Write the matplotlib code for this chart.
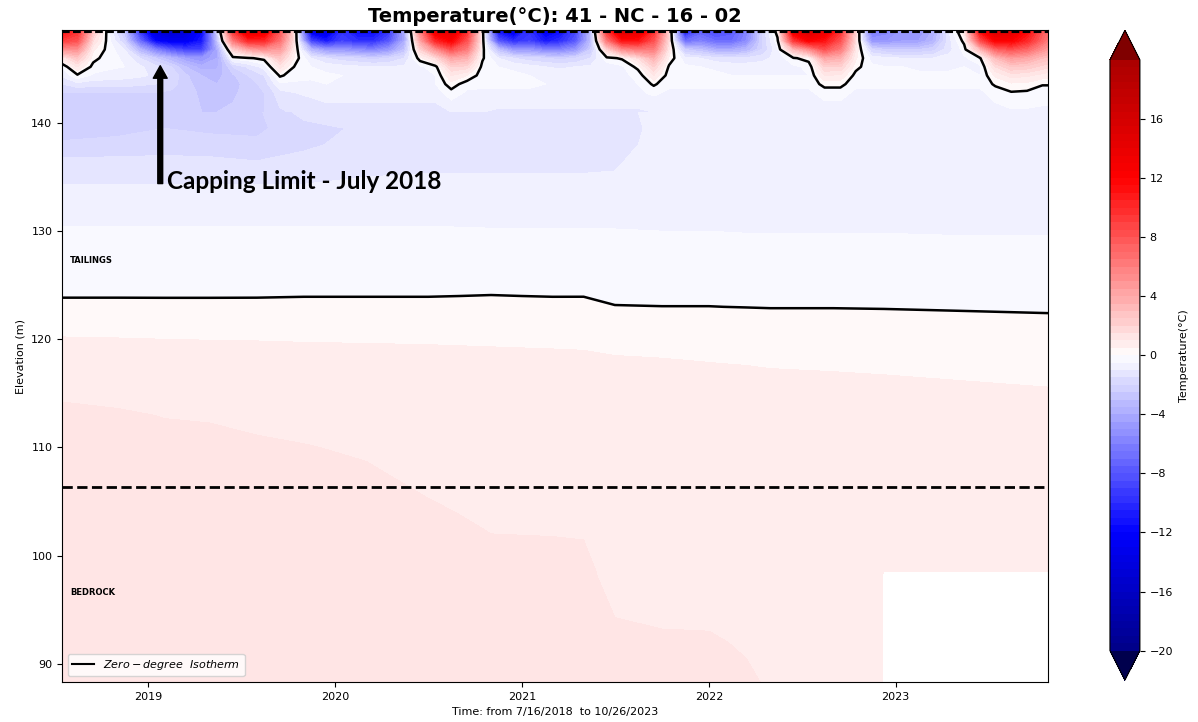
import numpy as np
import pandas as pd
import matplotlib
matplotlib.use("Agg")
import matplotlib.pyplot as plt
import matplotlib.dates as mdates
from matplotlib.lines import Line2D

# ---------------- near-surface thermistors (monthly profiles) ----------------
# each profile: temperatures at the elevations in surf_elev (top -> 141 m)
surf_elev = [148.7, 147.6, 146.8, 146.0, 145.2, 144.4, 143.6, 142.8, 141.0]

surf_2018 = [
    [12, 9, 5, 1.0, -0.5, -0.9, -1.5, -2.0, -2.3],
    [10, 8, 5, 2.5, 1.0, -0.1, -1.2, -2.0, -2.3],
    [3, 1.5, 0.6, 0.2, -0.2, -0.6, -1.3, -2.0, -2.3],
    [-0.5, -0.3, -0.2, -0.3, -0.4, -0.7, -1.3, -2.0, -2.3],
    [-3, -2, -1, -0.6, -0.5, -0.8, -1.3, -2.0, -2.3],
    [-10, -7, -3.5, -1.5, -0.9, -0.9, -1.4, -2.0, -2.3],
]
surf_2019 = [
    [-15, -12, -6, -2.5, -1.3, -1.1, -1.5, -2.0, -2.3],
    [-16, -13, -8, -3.5, -2.0, -1.6, -1.8, -2.1, -2.3],
    [-15, -13, -9, -4.5, -3.0, -2.4, -2.3, -2.3, -2.4],
    [-12, -11, -9, -5.0, -3.8, -3.0, -2.8, -2.6, -2.5],
    [-2, -3, -4, -4.0, -3.6, -3.2, -3.0, -2.8, -2.5],
    [10, 6, 2, -0.3, -2.0, -2.6, -2.7, -2.6, -2.4],
    [15, 10, 4, -0.1, -1.4, -2.0, -2.3, -2.3, -2.2],
    [14, 10, 5, 0.2, -0.8, -1.5, -1.8, -2.0, -2.0],
    [8, 6.5, 4.5, 2.5, 1.2, 0.1, -0.6, -1.2, -1.6],
    [1.0, 0.8, 0.6, 0.3, -0.1, -0.3, -0.6, -1.0, -1.4],
    [-14, -9, -3.5, -1.0, -0.5, -0.4, -0.6, -0.9, -1.3],
    [-15, -11, -5, -1.5, -0.7, -0.4, -0.5, -0.8, -1.2],
]
surf_2020 = [
    [-10, -9, -5, -1.8, -0.8, -0.5, -0.5, -0.8, -1.2],
    [-12, -10, -5.5, -2.0, -0.9, -0.5, -0.5, -0.8, -1.2],
    [-12, -10, -6, -2.2, -1.0, -0.6, -0.5, -0.8, -1.2],
    [-10, -8, -5, -2.0, -1.0, -0.6, -0.5, -0.8, -1.2],
    [-4, -4, -3, -1.5, -0.9, -0.6, -0.5, -0.8, -1.2],
    [6, 4, 2, 0.3, -0.6, -0.6, -0.5, -0.8, -1.2],
    [14, 10, 5, 1.5, -0.2, -0.5, -0.5, -0.8, -1.2],
    [15, 12, 8, 4, 2, 1, 0.3, -0.2, -1.0],
    [10, 8, 6, 3.5, 1.8, 0.5, -0.3, -0.6, -1.0],
    [0.5, 0.5, 0.3, 0.1, -0.2, -0.3, -0.4, -0.6, -1.0],
    [-12, -8, -3, -1.0, -0.5, -0.4, -0.4, -0.6, -1.1],
    [-14, -10, -5, -1.5, -0.6, -0.4, -0.4, -0.6, -1.1],
]
surf_2021 = [
    [-10, -9, -5, -1.8, -0.8, -0.5, -0.4, -0.6, -1.1],
    [-13, -11, -6, -2.0, -1.0, -0.6, -0.5, -0.6, -1.1],
    [-12, -10, -6, -2.2, -1.1, -0.7, -0.5, -0.6, -1.1],
    [-9, -8, -5, -2.0, -1.0, -0.7, -0.5, -0.6, -1.1],
    [-3, -3, -2.5, -1.5, -0.9, -0.7, -0.5, -0.6, -1.1],
    [10, 6, 2, -0.2, -0.8, -0.7, -0.5, -0.6, -1.1],
    [16, 11, 5, 0.1, -0.6, -0.6, -0.5, -0.6, -1.1],
    [15, 11, 6, 1.5, 0.2, -0.4, -0.5, -0.6, -1.1],
    [10, 8, 6, 3.5, 2, 1, 0.1, -0.4, -1.0],
    [2, 1.5, 1, 0.4, -0.1, -0.3, -0.4, -0.6, -0.9],
    [-12, -7, -2.5, -0.8, -0.4, -0.4, -0.4, -0.6, -0.9],
    [-8, -6, -3, -1.0, -0.5, -0.4, -0.4, -0.6, -0.9],
]
surf_2022 = [
    [-9, -7, -4, -1.3, -0.6, -0.4, -0.4, -0.6, -0.9],
    [-8, -7, -4, -1.4, -0.7, -0.5, -0.4, -0.6, -0.9],
    [-6, -5.5, -3.5, -1.4, -0.7, -0.5, -0.4, -0.6, -0.9],
    [-2, -2, -2, -1.2, -0.7, -0.5, -0.4, -0.6, -0.9],
    [0.5, -0.2, -0.6, -0.8, -0.6, -0.5, -0.4, -0.6, -0.9],
    [14, 9, 3, -0.1, -0.6, -0.5, -0.4, -0.6, -0.9],
    [16, 12, 5, 0.3, -0.4, -0.5, -0.4, -0.6, -0.9],
    [14, 11, 8, 4, 2, 1, 0.2, -0.3, -0.8],
    [10, 8, 6, 3.5, 2, 0.9, 0.2, -0.3, -0.8],
    [2, 1.5, 1, 0.6, 0.2, -0.2, -0.4, -0.6, -0.8],
    [-7, -5, -2, -0.7, -0.4, -0.4, -0.4, -0.6, -0.8],
    [-6, -5, -2.5, -0.9, -0.5, -0.4, -0.4, -0.6, -0.8],
]
surf_2023 = [
    [-5, -4.5, -2.5, -1.0, -0.5, -0.4, -0.4, -0.6, -0.8],
    [-5, -4.5, -2.5, -1.0, -0.6, -0.4, -0.4, -0.6, -0.8],
    [-4, -3.5, -2.2, -1.0, -0.6, -0.4, -0.4, -0.6, -0.8],
    [-1, -1.2, -1.2, -0.8, -0.6, -0.4, -0.4, -0.6, -0.8],
    [1, 0.2, -0.3, -0.6, -0.5, -0.4, -0.4, -0.6, -0.8],
    [12, 8, 3, -0.1, -0.6, -0.5, -0.4, -0.6, -0.8],
    [16, 12, 7, 3, 1.5, 0.6, 0.1, -0.3, -0.7],
    [15, 12, 8, 4.5, 2.5, 1.2, 0.4, -0.05, -0.6],
    [12, 10, 7, 4, 2.3, 1.1, 0.35, -0.1, -0.6],
    [8, 7, 5, 3, 1.8, 0.8, 0.05, -0.3, -0.6],
    [7, 6, 4.5, 2.8, 1.6, 0.7, 0.05, -0.3, -0.6],
]
surf_times = (["2018-07-16"]
              + [str(d.date()) for d in pd.date_range("2018-08-01", "2023-10-01", freq="MS") + pd.Timedelta(days=14)]
              + ["2023-10-26"])

# ---------------- deep thermistors (tailings + bedrock) ----------------
deep_times = ["2018-07-16", "2018-11-01", "2019-02-01", "2019-05-01", "2019-08-01",
              "2019-11-01", "2020-03-01", "2020-07-01", "2020-11-01", "2021-03-01",
              "2021-05-01", "2021-07-01", "2021-10-01", "2022-01-01", "2022-03-15",
              "2022-05-01", "2022-09-01", "2022-12-07", "2022-12-08", "2023-05-01",
              "2023-10-26"]
nan = np.nan
d141 = [-2.3, -2.3, -2.3, -2.5, -2.1, -1.3, -1.2, -1.2, -1.05, -1.1, -1.1, -1.1, -0.9, -0.9, -0.9, -0.9, -0.8, -0.8, -0.8, -0.8, -0.6]
d139_5 = [-2.3, -2.2, -2.0, -2.1, -2.1, -1.7, -1.4, -1.3, -1.25, -1.2, -1.2, -1.15, -0.9, -0.85, -0.85, -0.85, -0.8, -0.8, -0.8, -0.8, -0.75]
d138 = [-1.9, -1.8, -1.7, -1.8, -1.9, -1.6, -1.3, -1.25, -1.2, -1.2, -1.2, -1.15, -0.85, -0.8, -0.8, -0.8, -0.8, -0.8, -0.8, -0.75, -0.75]
d136_5 = [-1.4, -1.4, -1.4, -1.4, -1.5, -1.35, -1.15, -1.1, -1.1, -1.1, -1.1, -1.05, -0.8, -0.75, -0.75, -0.75, -0.75, -0.75, -0.75, -0.7, -0.7]
d135 = [-1.1, -1.1, -1.1, -1.1, -1.1, -1.1, -1.0, -0.97, -0.97, -0.97, -0.97, -0.97, -0.75, -0.72, -0.72, -0.72, -0.72, -0.72, -0.72, -0.7, -0.7]
d133 = [-0.8, -0.8, -0.8, -0.8, -0.8, -0.8, -0.75, -0.75, -0.75, -0.75, -0.75, -0.75, -0.7, -0.7, -0.7, -0.68, -0.68, -0.68, -0.68, -0.66, -0.65]
d131 = [-0.53, -0.53, -0.53, -0.53, -0.53, -0.53, -0.53, -0.53, -0.54, -0.54, -0.54, -0.54, -0.55, -0.55, -0.56, -0.56, -0.56, -0.56, -0.56, -0.57, -0.57]
d129 = [-0.42, -0.42, -0.42, -0.42, -0.42, -0.42, -0.42, -0.42, -0.43, -0.43, -0.43, -0.44, -0.45, -0.45, -0.46, -0.46, -0.46, -0.46, -0.46, -0.47, -0.47]
d127 = [-0.3, -0.3, -0.3, -0.3, -0.3, -0.29, -0.29, -0.29, -0.28, -0.29, -0.28, -0.32, -0.33, -0.33, -0.34, -0.35, -0.35, -0.36, -0.36, -0.37, -0.38]
d125 = [-0.12, -0.12, -0.13, -0.13, -0.12, -0.11, -0.11, -0.11, -0.1, -0.11, -0.1, -0.15, -0.16, -0.16, -0.17, -0.18, -0.18, -0.19, -0.19, -0.21, -0.22]
d124 = [-0.02, -0.02, -0.02, -0.02, -0.02, -0.01, -0.01, -0.01, 0.01, -0.01, -0.01, -0.07, -0.08, -0.08, -0.09, -0.1, -0.1, -0.1, -0.1, -0.12, -0.14]
d123 = [0.11, 0.11, 0.1, 0.1, 0.11, 0.13, 0.13, 0.13, 0.14, 0.13, 0.14, 0.014, 0.005, 0.005, -0.008, -0.016, -0.016, -0.024, -0.024, -0.04, -0.056]
d122 = [0.25, 0.25, 0.24, 0.24, 0.25, 0.27, 0.27, 0.27, 0.28, 0.27, 0.28, 0.15, 0.14, 0.14, 0.13, 0.11, 0.11, 0.1, 0.1, 0.07, 0.04]
d121 = [0.39, 0.39, 0.38, 0.38, 0.39, 0.41, 0.41, 0.41, 0.42, 0.41, 0.42, 0.29, 0.28, 0.28, 0.27, 0.25, 0.25, 0.24, 0.24, 0.21, 0.18]
d119 = [0.67, 0.64, 0.62, 0.6, 0.58, 0.55, 0.54, 0.53, 0.514, 0.505, 0.499, 0.48, 0.47, 0.46, 0.45, 0.44, 0.43, 0.43, 0.43, 0.41, 0.36]
d117 = [0.82, 0.8, 0.77, 0.75, 0.73, 0.7, 0.67, 0.65, 0.62, 0.6, 0.6, 0.56, 0.55, 0.53, 0.52, 0.51, 0.5, 0.49, 0.49, 0.48, 0.45]
d115 = [0.96, 0.93, 0.9, 0.88, 0.86, 0.84, 0.8, 0.76, 0.72, 0.7, 0.7, 0.66, 0.64, 0.62, 0.6, 0.59, 0.57, 0.56, 0.56, 0.53, 0.52]
d113 = [1.06, 1.03, 0.99, 0.98, 0.95, 0.92, 0.88, 0.83, 0.78, 0.76, 0.76, 0.72, 0.7, 0.68, 0.66, 0.64, 0.62, 0.61, 0.61, 0.59, 0.57]
d110 = [1.12, 1.1, 1.08, 1.06, 1.03, 1.01, 0.97, 0.9, 0.85, 0.83, 0.83, 0.78, 0.76, 0.74, 0.72, 0.7, 0.68, 0.66, 0.66, 0.64, 0.62]
d107 = [1.16, 1.14, 1.12, 1.1, 1.08, 1.06, 1.04, 0.96, 0.91, 0.9, 0.9, 0.84, 0.81, 0.79, 0.77, 0.75, 0.73, 0.71, 0.71, 0.69, 0.67]
d104 = [1.2, 1.18, 1.16, 1.14, 1.12, 1.1, 1.08, 1.03, 0.96, 0.97, 0.97, 0.88, 0.86, 0.84, 0.82, 0.8, 0.77, 0.75, 0.75, 0.73, 0.71]
d101 = [1.23, 1.21, 1.19, 1.17, 1.15, 1.13, 1.11, 1.08, 1.02, 1.01, 1.005, 0.91, 0.9, 0.88, 0.86, 0.84, 0.81, 0.79, 0.79, 0.76, 0.74]
d98_5 = [1.26, 1.24, 1.22, 1.2, 1.18, 1.16, 1.14, 1.11, 1.07, 1.05, 1.04, 0.94, 0.93, 0.91, 0.89, 0.87, 0.84, 0.82, 0.82, 0.8, 0.78]
d98_3 = [1.26, 1.24, 1.22, 1.2, 1.18, 1.16, 1.14, 1.11, 1.07, 1.05, 1.04, 0.94, 0.93, 0.91, 0.89, 0.87, 0.84, 0.82, nan, nan, nan]
d95 = [1.3, 1.28, 1.26, 1.24, 1.22, 1.2, 1.18, 1.15, 1.11, 1.09, 1.08, 0.99, 0.97, 0.96, 0.93, 0.9, 0.87, 0.85, nan, nan, nan]
d92 = [1.34, 1.32, 1.3, 1.28, 1.26, 1.24, 1.22, 1.19, 1.15, 1.13, 1.12, 1.03, 1.02, 1.02, 0.98, 0.94, 0.9, 0.88, nan, nan, nan]
d88 = [1.45, 1.38, 1.35, 1.33, 1.31, 1.29, 1.27, 1.24, 1.2, 1.17, 1.16, 1.07, 1.06, 1.05, 1.03, 0.98, 0.93, 0.9, nan, nan, nan]

deep_elev = [141.0, 139.5, 138.0, 136.5, 135.0, 133.0, 131.0, 129.0, 127.0, 125.0, 124.0, 123.0,
             122.0, 121.0, 119.0, 117.0, 115.0, 113.0, 110.0, 107.0, 104.0, 101.0, 98.5, 98.3,
             95.0, 92.0, 88.2]
deep_rows = [d141, d139_5, d138, d136_5, d135, d133, d131, d129, d127, d125, d124, d123,
             d122, d121, d119, d117, d115, d113, d110, d107, d104, d101, d98_5, d98_3,
             d95, d92, d88]

# ---------------- plot ----------------
levels = np.arange(-20, 20.5, 0.5)
cmap = plt.get_cmap("seismic")

fig = plt.figure(figsize=(11.98, 7.22), dpi=100)
ax = fig.add_axes([0.0518, 0.0554, 0.823, 0.903])

xs = mdates.date2num(pd.to_datetime(surf_times))
zs = np.array(surf_2018 + surf_2019 + surf_2020 + surf_2021 + surf_2022 + surf_2023).T
Xs, Ys = np.meshgrid(xs, surf_elev)

xd = mdates.date2num(pd.to_datetime(deep_times))
zd = np.ma.masked_invalid(np.array(deep_rows, dtype=float))
Xd, Yd = np.meshgrid(xd, deep_elev)

cf = ax.contourf(Xs, Ys, zs, levels=levels, cmap=cmap, vmin=-24, vmax=24, extend="both")
ax.contourf(Xd, Yd, zd, levels=levels, cmap=cmap, vmin=-24, vmax=24, extend="both")
ax.contour(Xs, Ys, zs, levels=[0], colors="k", linewidths=1.8)
ax.contour(Xd, Yd, zd, levels=[0], colors="k", linewidths=1.8)

ax.axhline(148.4, color="k", ls="--", lw=1.5)
ax.axhline(106.3, color="k", ls="--", lw=2)

ax.set_xlim(mdates.date2num(pd.Timestamp("2018-07-16")), mdates.date2num(pd.Timestamp("2023-10-26")))
ax.set_ylim(88.3, 148.6)
ax.xaxis.set_major_locator(mdates.YearLocator())
ax.xaxis.set_major_formatter(mdates.DateFormatter("%Y"))
ax.tick_params(labelsize=8)

x_lab = mdates.date2num(pd.Timestamp("2018-08-01"))
ax.text(x_lab, 127.3, "TAILINGS", fontsize=6, fontweight="bold", va="center")
ax.text(x_lab, 96.6, "BEDROCK", fontsize=6, fontweight="bold", va="center")

x_arrow = mdates.date2num(pd.Timestamp("2019-01-24"))
ax.annotate("", xy=(x_arrow, 145.3), xytext=(x_arrow, 134.4),
            arrowprops=dict(facecolor="black", edgecolor="black", width=3.5, headwidth=10, headlength=9))
ax.text(mdates.date2num(pd.Timestamp("2019-02-06")), 134.6, "Capping Limit - July 2018",
        fontsize=17.5, fontweight="bold", family="Lato", va="center")

ax.set_title("Temperature(°C): 41 - NC - 16 - 02", fontsize=14, fontweight="bold")
ax.set_ylabel("Elevation (m)", fontsize=8)
ax.set_xlabel("Time: from 7/16/2018  to 10/26/2023", fontsize=8)

ax.legend([Line2D([0], [0], color="k", lw=1.5)], [r"$Zero-degree\ \ Isotherm$"],
          loc="lower left", fontsize=8)

cax = fig.add_axes([0.9265, 0.058, 0.025, 0.9])
cb = fig.colorbar(cf, cax=cax, ticks=np.arange(-20, 17, 4))
cb.ax.tick_params(labelsize=8)
cb.set_label("Temperature(°C)", fontsize=8)

fig.savefig("out.png", dpi=100)
